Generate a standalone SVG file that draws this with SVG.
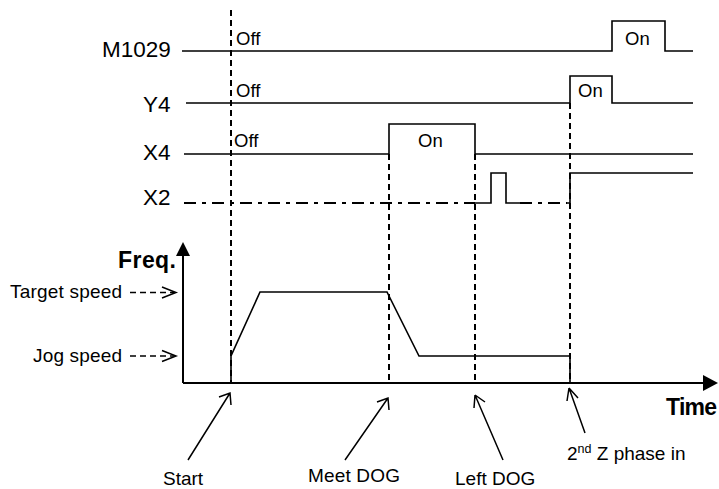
<svg xmlns="http://www.w3.org/2000/svg" width="719" height="489" viewBox="0 0 719 489">
<defs>
<style>
text{font-family:"Liberation Sans",Arial,sans-serif;fill:#000}
.sig{fill:none;stroke:#000;stroke-width:1.6}
.vd{fill:none;stroke:#000;stroke-width:2;stroke-dasharray:6 4}
.dd{fill:none;stroke:#000;stroke-width:2.2;stroke-dasharray:12 6 4 6}
.ax{fill:none;stroke:#000;stroke-width:2}
.arr{fill:none;stroke:#000;stroke-width:1.5}
.lab{font-size:22.5px}
.st{font-size:18.5px}
.sp{font-size:19px}
.bl{font-size:23px;font-weight:bold}
</style>
</defs>
<g id="connectors">
<path class="vd" d="M231,10 V383"/>
<path class="vd" d="M389,154 V383"/>
<path class="vd" d="M475,154 V383"/>
<path class="vd" d="M570,103 V383"/>
</g>
<g id="M1029">
<text class="lab" x="102" y="57">M1029</text>
<path class="sig" d="M182,51 H612 V21 H665 V51 H693"/>
<text class="st" x="236" y="45">Off</text>
<text class="st" x="625" y="45">On</text>
</g>
<g id="Y4">
<text class="lab" x="143" y="112">Y4</text>
<path class="sig" d="M186,103 H570 V76 H612 V103 H693"/>
<text class="st" x="236" y="97">Off</text>
<text class="st" x="578" y="97">On</text>
</g>
<g id="X4">
<text class="lab" x="143" y="160">X4</text>
<path class="sig" d="M184,154 H389 V124 H475 V154 H693"/>
<text class="st" x="234" y="147">Off</text>
<text class="st" x="418" y="147">On</text>
</g>
<g id="X2">
<text class="lab" x="143" y="205">X2</text>
<path class="dd" d="M184,203 H475"/>
<path class="sig" d="M475,203 H491 V173 H506 V203 H520"/>
<path class="dd" d="M520,203 H567"/>
<path class="sig" d="M566,203 H570 V173 H693"/>
</g>
<g id="axes">
<path class="ax" d="M183,383 V252"/>
<polygon points="183,242 176,256 190,256" fill="#000"/>
<path class="ax" d="M183,383 H704"/>
<polygon points="718,383 703,375 703,391" fill="#000"/>
<text class="bl" x="118" y="268" textLength="58">Freq.</text>
<text class="bl" x="666" y="415" textLength="51">Time</text>
</g>
<g id="curve">
<path class="sig" d="M231,383 V356 L260,292 H387 L419,356 H570 V383"/>
</g>
<g id="target-speed">
<text class="sp" x="10" y="298" textLength="112">Target speed</text>
<path class="arr" d="M130,292.5 H174" stroke-dasharray="6 4"/>
<path class="arr" d="M162,287 L176,292.5 L162,298"/>
</g>
<g id="jog-speed">
<text class="sp" x="33" y="362" textLength="89">Jog speed</text>
<path class="arr" d="M130,356 H174" stroke-dasharray="6 4"/>
<path class="arr" d="M162,350.5 L176,356 L162,361.5"/>
</g>
<g id="start">
<path class="arr" d="M188,460 L230,393 M219,397 L230,393 L231,405"/>
<text class="sp" x="163" y="485" textLength="40">Start</text>
</g>
<g id="meet-dog">
<path class="arr" d="M345,460 L388,398 M377,402 L388,398 L389,410"/>
<text class="sp" x="308" y="482" textLength="92">Meet DOG</text>
</g>
<g id="left-dog">
<path class="arr" d="M503,460 L475,395 M475,395 L474,408 M475,395 L485,402"/>
<text class="sp" x="455" y="485">Left DOG</text>
</g>
<g id="z-phase">
<path class="arr" d="M585,433 L569,388 M569,388 L567,401 M569,388 L578,398"/>
<text class="sp" x="567" y="460">2<tspan font-size="12.5" dy="-7">nd</tspan><tspan dy="7"> Z phase in</tspan></text>
</g>
</svg>
